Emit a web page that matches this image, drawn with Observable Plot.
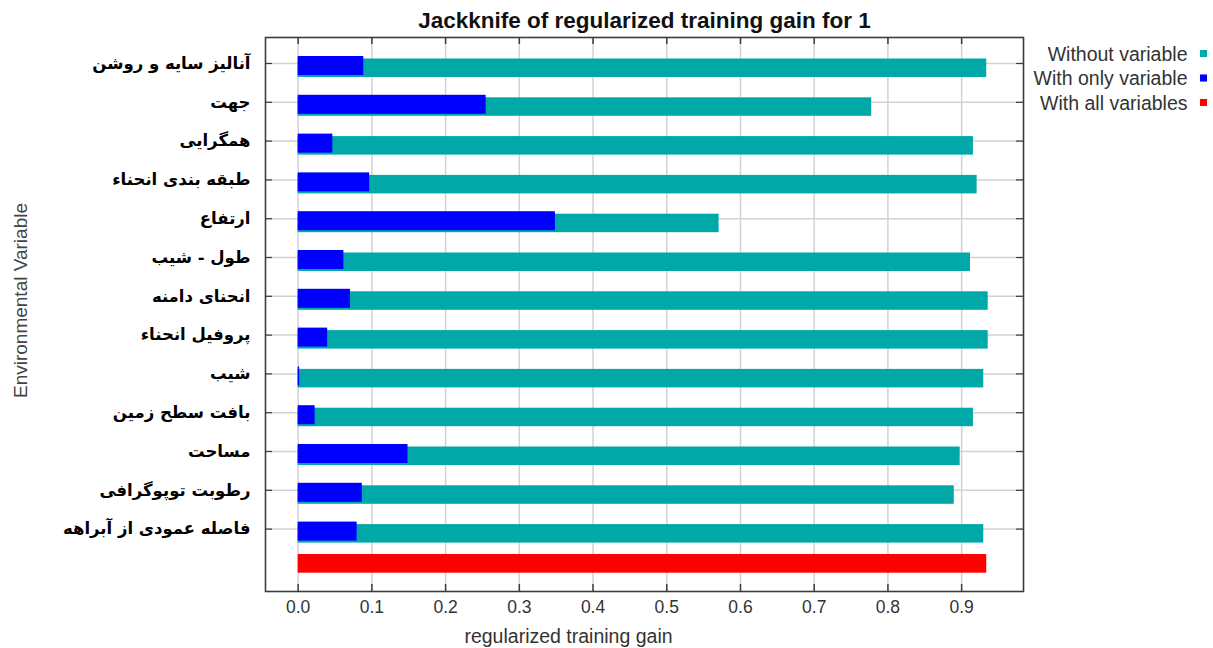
<!DOCTYPE html>
<html>
<head>
<meta charset="utf-8">
<script src="https://cdn.jsdelivr.net/npm/d3@7"></script>
<script src="https://cdn.jsdelivr.net/npm/@observablehq/plot@0.6"></script>
<style>
  body { margin: 0; background: #fff; }
  #chart svg { display: block; }
</style>
</head>
<body>
<div id="chart"></div>
<script>
// Environmental variables, top to bottom
const variables = [
  "آنالیز سایه و روشن",
  "جهت",
  "همگرایی",
  "طبقه بندی انحناء",
  "ارتفاع",
  "طول - شیب",
  "انحنای دامنه",
  "پروفیل انحناء",
  "شیب",
  "بافت سطح زمین",
  "مساحت",
  "رطوبت توپوگرافی",
  "فاصله عمودی از آبراهه"
];

// Regularized training gain of the model built without each variable
const withoutVariable = [0.934, 0.778, 0.916, 0.921, 0.571, 0.912, 0.936, 0.936, 0.930, 0.916, 0.898, 0.890, 0.930];

// Regularized training gain of the model built with that variable alone
const withOnlyVariable = [0.089, 0.255, 0.047, 0.097, 0.349, 0.062, 0.071, 0.040, 0.002, 0.023, 0.149, 0.087, 0.080];

// Gain of the full model
const withAllVariables = 0.934;

const xTicks = [0, 0.1, 0.2, 0.3, 0.4, 0.5, 0.6, 0.7, 0.8, 0.9];

const title = "Jackknife of regularized training gain for 1";
const xLabel = "regularized training gain";
const yLabel = "Environmental Variable";

const legendLabels = ["Without variable", "With only variable", "With all variables"];
const legendColors = ["#00a8a8", "#0000ff", "#ff0000"];

// Layout
const W = 1213, H = 648;
const mL = 265, mR = 190, mT = 37, mB = 57;
const frameW = W - mL - mR, frameH = H - mT - mB;
const TICK = 7;
const allKey = "all variables";

const rows = variables.map((v, i) => ({variable: v, without: withoutVariable[i], only: withOnlyVariable[i]}));
const allRow = [{variable: allKey, value: withAllVariables}];

const gridColor = "#d2d2d2";
const axisColor = "#3c3c3c";
const sans = "'Liberation Sans', Arial, sans-serif";

const legendMarks = legendLabels.flatMap((label, i) => [
  Plot.text([label], {
    text: d => d, frameAnchor: "top-right", dx: 164, dy: 17 + i * 24.5,
    textAnchor: "end", lineAnchor: "middle", fontSize: 19.5, fill: "#333"
  }),
  Plot.dot([label], {
    frameAnchor: "top-right", dx: 180, dy: 16 + i * 24.5,
    symbol: "square", r: 4, fill: legendColors[i], stroke: null
  })
]);

const chart = Plot.plot({
  width: W,
  height: H,
  marginLeft: mL,
  marginRight: mR,
  marginTop: mT,
  marginBottom: mB,
  style: {fontFamily: sans, fontSize: "14px", background: "#fff", color: "#333"},
  x: {domain: [-0.0443, 0.9839]},
  y: {type: "band", domain: [...variables, allKey], range: [43.6, 586.8], padding: 0, round: false},
  marks: [
    // grid
    Plot.ruleX(xTicks, {x: d => d, stroke: gridColor, strokeWidth: 1.5}),
    Plot.ruleY(variables, {y: d => d, stroke: gridColor, strokeWidth: 1.5}),
    // bars
    Plot.barX(rows, {x: "without", y: "variable", fill: legendColors[0], insetTop: 14.9, insetBottom: 5.4}),
    Plot.barX(rows, {x: "only", y: "variable", fill: legendColors[1], insetTop: 12.4, insetBottom: 7.4}),
    Plot.barX(allRow, {x: "value", y: "variable", fill: legendColors[2], insetTop: 6, insetBottom: 14.1}),
    // inward ticks on all four sides
    Plot.ruleX(xTicks, {x: d => d, insetTop: frameH - TICK, stroke: axisColor, strokeWidth: 1.5}),
    Plot.ruleX(xTicks, {x: d => d, insetBottom: frameH - TICK, stroke: axisColor, strokeWidth: 1.5}),
    Plot.ruleY(variables, {y: d => d, insetRight: frameW - TICK, stroke: axisColor, strokeWidth: 1.2}),
    Plot.ruleY(variables, {y: d => d, insetLeft: frameW - TICK, stroke: axisColor, strokeWidth: 1.2}),
    Plot.frame({stroke: axisColor, strokeWidth: 1.6}),
    // tick labels
    Plot.axisX({
      anchor: "bottom", ticks: xTicks, tickSize: 0, tickPadding: 9,
      tickFormat: d3.format(".1f"), fontSize: 17.5, fill: "#333", label: null
    }),
    Plot.axisY({
      anchor: "left", ticks: variables, tickSize: 0, tickPadding: 15,
      fontSize: 16.5, fontWeight: "bold", fontFamily: "'DejaVu Sans', sans-serif", fill: "#000", label: null
    }),
    // titles
    Plot.text([title], {
      text: d => d, frameAnchor: "top", dy: -17, textAnchor: "middle", lineAnchor: "middle",
      fontSize: 22.5, fontWeight: "bold", fill: "#111"
    }),
    Plot.text([xLabel], {
      text: d => d, frameAnchor: "bottom-left", dx: 303, dy: 45, textAnchor: "middle", lineAnchor: "middle",
      fontSize: 19.5, fill: "#333"
    }),
    Plot.text([yLabel], {
      text: d => d, frameAnchor: "left", dx: -245, dy: -14, rotate: -90, textAnchor: "middle", lineAnchor: "middle",
      fontSize: 19, fill: "#444"
    }),
    ...legendMarks
  ]
});

document.getElementById("chart").append(chart);
</script>
</body>
</html>
